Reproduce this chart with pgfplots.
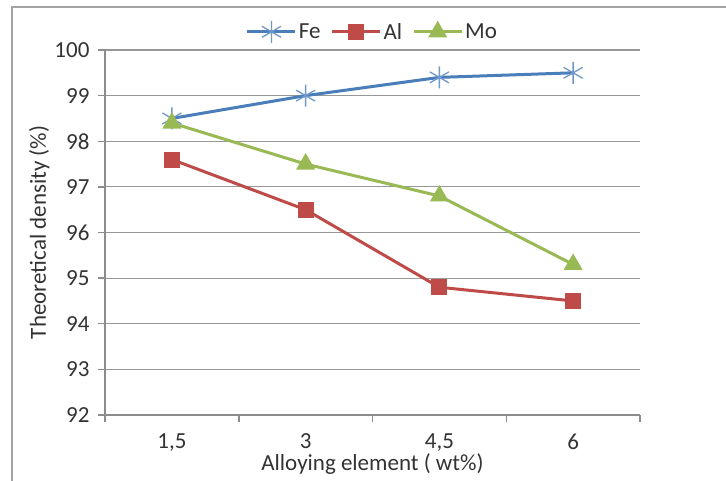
\documentclass[border=0pt]{standalone}
\usepackage{pgfplots}
\pgfplotsset{compat=1.18}
\usepackage{fontspec}
\setmainfont{Carlito}
\usetikzlibrary{plotmarks}
\definecolor{feblue}{HTML}{4A7EBB}
\definecolor{alred}{HTML}{BE4B48}
\definecolor{mogreen}{HTML}{98B954}
\definecolor{axgray}{HTML}{8C8C8C}
\begin{document}
\begin{tikzpicture}[x=1pt,y=1pt]
\useasboundingbox (0,0) rectangle (726,481);
\draw[axgray!80, line width=1.5pt] (12,0) -- (12,474) -- (726,474);
\begin{axis}[
  at={(105pt,66pt)}, anchor=south west,
  scale only axis, width=535pt, height=365pt,
  xmin=0.5, xmax=4.5, ymin=92, ymax=100,
  ytick={92,93,...,100},
  xtick={1,2,3,4}, xticklabels={{1,5},3,{4,5},6},
  minor xtick={0.5,1.5,2.5,3.5,4.5},
  axis x line*=bottom, axis y line*=left,
  axis line style={axgray, line width=1.5pt},
  tick style={axgray, line width=1.5pt},
  tick align=outside,
  major tick length=7pt, minor tick length=7pt,
  major x tick style={draw=none},
  ymajorgrids, grid style={axgray!90, line width=1.2pt},
  ticklabel style={font=\fontsize{23}{27}\selectfont, text=black!80},
  yticklabel style={xshift=-5pt},
  xticklabel style={yshift=-8pt},
  /pgf/number format/assume math mode=true,
  xlabel={Alloying element ( wt\%)},
  ylabel={Theoretical density (\%)},
  label style={font=\fontsize{23}{27}\selectfont, text=black!80},
  xlabel style={yshift=4pt},
  ylabel style={yshift=-2pt},
  legend columns=3,
  legend style={draw=none, at={(0.5,1)}, anchor=south, yshift=5pt,
    font=\fontsize{23}{27}\selectfont, text=black!80,
    /tikz/every even column/.append style={column sep=8pt}},
  legend image code/.code={\draw[#1, mark repeat=2, mark phase=2] plot coordinates {(0pt,0pt) (24pt,0pt) (48pt,0pt)};},
  every axis plot/.append style={line width=3pt},
]
\addplot[feblue, mark=asterisk, mark size=11pt, mark options={line width=1.3pt, draw=feblue!80}] coordinates {(1,98.5) (2,99.0) (3,99.4) (4,99.5)};
\addlegendentry{Fe}
\addplot[alred, mark=square*, mark size=6.5pt, mark options={solid}] coordinates {(1,97.6) (2,96.5) (3,94.8) (4,94.5)};
\addlegendentry{Al}
\addplot[mogreen, mark=triangle*, mark size=8pt, mark options={solid}] coordinates {(1,98.4) (2,97.5) (3,96.8) (4,95.3)};
\addlegendentry{Mo}
\end{axis}
\end{tikzpicture}
\end{document}
